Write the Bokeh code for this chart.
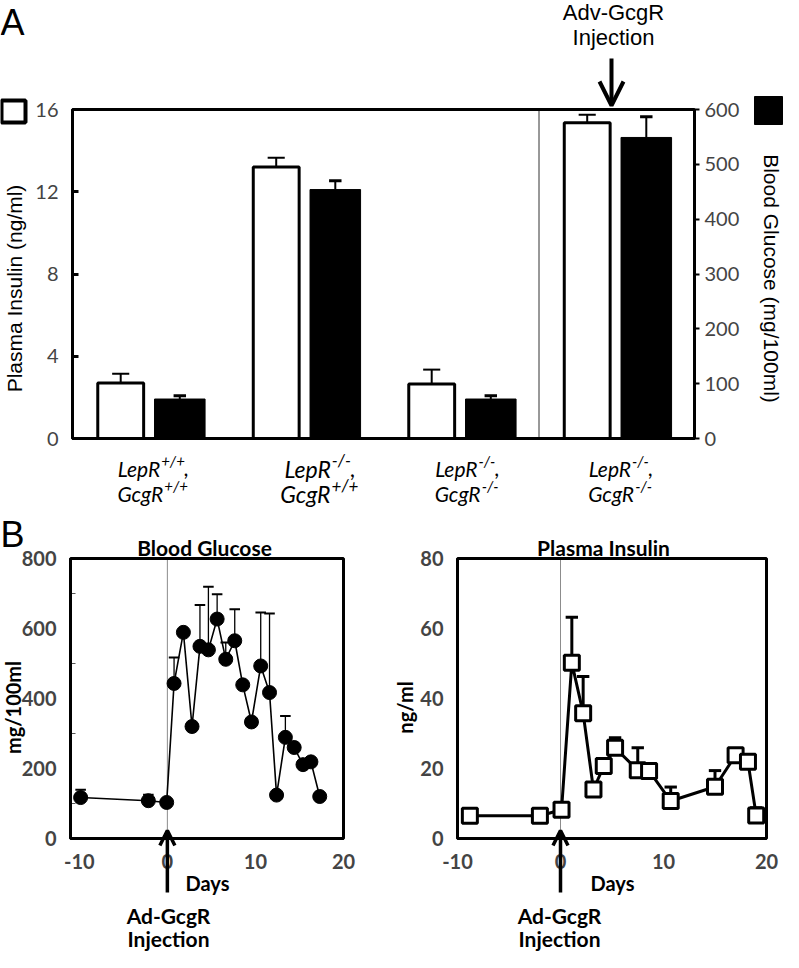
import math
from bokeh.plotting import figure
from bokeh.models import (Range1d, LinearAxis, FixedTicker, Label, Arrow, OpenHead,
                          BoxAnnotation, ColumnDataSource, CustomJSTickFormatter)
from bokeh.layouts import column, row
from bokeh.embed import file_html
from bokeh.resources import INLINE

# ---------------- data ----------------
lepr_geno = ["+/+", "-/-", "-/-", "-/-"]
gcgr_geno = ["+/+", "+/+", "-/-", "-/-"]
insulin_a = [2.7, 13.2, 2.65, 15.35]
insulin_a_err = [0.45, 0.45, 0.7, 0.4]
glucose_a = [72, 454, 72, 549]
glucose_a_err = [6, 16, 6, 38]
insulin_ticks = [0, 4, 8, 12, 16]
glucose_ticks = [0, 100, 200, 300, 400, 500, 600]

glu_days = [-9.85, -2.16, -0.08, 0.76, 1.82, 2.8, 3.7, 4.66, 5.65, 6.63, 7.65,
            8.56, 9.55, 10.6, 11.6, 12.4, 13.4, 14.4, 15.4, 16.3, 17.3]
glu_vals = [117, 108, 103, 443, 589, 320, 549, 539, 627, 512, 565,
            439, 333, 493, 417, 124, 289, 260, 211, 219, 120]
glu_err = [22, 17, 0, 74, 0, 0, 118, 180, 71, 48, 90,
           0, 0, 153, 226, 0, 61, 0, 0, 0, 0]

ins_days = [-8.8, -2.0, 0.1, 1.1, 2.2, 3.2, 4.2, 5.3, 7.5, 8.6, 10.7, 15.0, 17.0, 18.2, 19.0]
ins_vals = [6.5, 6.5, 8.2, 50.2, 35.8, 14.0, 20.7, 25.9, 19.5, 19.3, 10.7, 14.8, 23.8, 21.9, 6.6]
ins_err = [0, 0, 1.5, 13.0, 10.5, 0, 0, 2.9, 6.4, 0, 4.0, 4.6, 0, 1.7, 2.2]

day_ticks_glu = [-10, 0, 10, 20]
day_ticks_ins = [-10, 0, 10, 20]
glu_b_ticks = [0, 200, 400, 600, 800]
glu_b_minor = [100, 300, 500, 700]
ins_b_ticks = [0, 20, 40, 60, 80]
glu_day_lim = (-11, 20)
ins_day_lim = (-10, 20)
injection_day = 0

SANS = "Liberation Sans"
CAL = "Lato"
HYPHEN_FMT = CustomJSTickFormatter(code="return tick < 0 ? '-' + Math.abs(tick) : String(tick)")


def make_fig(cl, ct, W, H, dl, dr, dt, db, xlim, ylim):
    """Figure whose frame fills the canvas; data box (xlim, ylim) sits at page rect dl..dr, dt..db."""
    x0, x1 = xlim
    y0, y1 = ylim
    sx = (dr - dl) / (x1 - x0)
    sy = (db - dt) / (y1 - y0)
    xr = (x0 - (dl - cl) / sx, x1 + (cl + W - dr) / sx)
    yr = (y0 - (ct + H - db) / sy, y1 + (dt - ct) / sy)
    p = figure(width=W, height=H, x_range=Range1d(*xr), y_range=Range1d(*yr),
               output_backend="svg", toolbar_location=None, title=None,
               min_border=0, min_border_left=0, min_border_right=0,
               min_border_top=0, min_border_bottom=0)
    p.xgrid.grid_line_color = None
    p.ygrid.grid_line_color = None
    p.outline_line_color = None
    p.background_fill_color = "white"
    p.border_fill_color = "white"
    fx = lambda px: x0 + (px - dl) / sx
    fy = lambda py: y0 + (db - py) / sy
    gx = lambda d: dl + (d - x0) * sx
    return p, fx, fy, gx, yr


def lab(p, x, y, text, size, font=SANS, style="normal", align="center", angle=0.0):
    p.add_layout(Label(x=x, y=y, text=text, text_font=font, text_font_size=f"{size}px",
                       text_font_style=style, text_align=align, text_baseline="middle",
                       angle=angle, text_color="black"))


def style_axis(ax, font, size, bold=False):
    ax.major_label_text_font = font
    ax.major_label_text_font_size = f"{size}px"
    ax.major_label_text_font_style = "bold" if bold else "normal"
    ax.minor_tick_line_color = None
    ax.axis_line_width = 3
    ax.axis_line_color = "black"


# ---------------- Panel A ----------------
A_L, A_R, A_T, A_B = 80, 702, 117, 446
nA = len(insulin_a)
ins_lim = (insulin_ticks[0], insulin_ticks[-1])
glu_lim = (glucose_ticks[0], glucose_ticks[-1])
pA, fxA, fyA, gxA, yrA = make_fig(8, 8, 783, 512, A_L, A_R, A_T, A_B, (0, nA), ins_lim)
k = glu_lim[1] / ins_lim[1]
pA.extra_y_ranges = {"glu": Range1d(yrA[0] * k, yrA[1] * k)}

ya = pA.yaxis[0]
ya.fixed_location = 0
ya.bounds = ins_lim
ya.ticker = FixedTicker(ticks=insulin_ticks)
style_axis(ya, CAL, 20)
ya.major_tick_in = 6
ya.major_tick_out = 0
ya.major_tick_line_width = 3
ya.major_label_standoff = 14

ra = LinearAxis(y_range_name="glu", ticker=FixedTicker(ticks=glucose_ticks))
ra.fixed_location = nA
ra.bounds = glu_lim
style_axis(ra, CAL, 20)
ra.major_tick_in = 0
ra.major_tick_out = 5
ra.major_tick_line_width = 2
ra.major_label_standoff = 5
pA.add_layout(ra, "right")

xa = pA.xaxis[0]
xa.fixed_location = 0
xa.bounds = (0, nA)
xa.ticker = FixedTicker(ticks=[])
style_axis(xa, CAL, 1)
xa.major_tick_line_color = None
xa.major_label_text_font_size = "0px"

pA.add_layout(BoxAnnotation(left=0, right=nA, bottom=ins_lim[0], top=ins_lim[1],
                            fill_color=None, fill_alpha=0, line_color="black",
                            line_width=3, line_alpha=1.0))

grp = [i + 0.5 for i in range(nA)]
xw = [g - 0.19 for g in grp]
xb = [g + 0.19 for g in grp]

# separator before the treated group
pA.segment(x0=[nA - 1], y0=[ins_lim[0]], x1=[nA - 1], y1=[ins_lim[1]],
           line_color="#333333", line_width=1)

ins_top = [v + e for v, e in zip(insulin_a, insulin_a_err)]
glu_top = [v + e for v, e in zip(glucose_a, glucose_a_err)]
pA.segment(x0=xw, y0=insulin_a, x1=xw, y1=ins_top, line_color="black", line_width=2)
pA.segment(x0=[x - 0.055 for x in xw], y0=ins_top, x1=[x + 0.055 for x in xw], y1=ins_top,
           line_color="black", line_width=2)
pA.segment(x0=xb, y0=glucose_a, x1=xb, y1=glu_top, line_color="black", line_width=2,
           y_range_name="glu")
pA.segment(x0=[x - 0.04 for x in xb], y0=glu_top, x1=[x + 0.04 for x in xb], y1=glu_top,
           line_color="black", line_width=3, y_range_name="glu")

pA.vbar(x=xw, top=insulin_a, bottom=0, width=0.295, fill_color="white",
        line_color="black", line_width=3)
pA.vbar(x=xb, top=glucose_a, bottom=0, width=0.325, fill_color="black",
        line_color="black", line_width=1, y_range_name="glu")

# panel letter, injection note, legend squares, axis titles
lab(pA, fxA(8), fyA(30), "A", 36, align="left")
lab(pA, fxA(621), fyA(20), "Adv-GcgR", 22)
lab(pA, fxA(621), fyA(45), "Injection", 22)
pA.add_layout(Arrow(end=OpenHead(size=24, line_width=4, line_color="black"),
                    x_start=fxA(619), y_start=fyA(66), x_end=fxA(619), y_end=fyA(113),
                    line_width=4, line_color="black"))
pA.add_layout(BoxAnnotation(left=fxA(9), right=fxA(33), top=fyA(108), bottom=fyA(130),
                            fill_color="white", fill_alpha=1.0, line_color="black",
                            line_width=4, line_alpha=1.0))
pA.add_layout(BoxAnnotation(left=fxA(762), right=fxA(790), top=fyA(104), bottom=fyA(132),
                            fill_color="black", fill_alpha=1.0, line_color="black",
                            line_width=1, line_alpha=1.0))
lab(pA, fxA(22), fyA(296), "Plasma Insulin (ng/ml)", 21, angle=math.pi / 2)
lab(pA, fxA(779), fyA(286), "Blood Glucose (mg/100ml)", 21, angle=-math.pi / 2)

# category labels with superscripts
W = {'L': 0.49, 'e': 0.53, 'p': 0.56, 'R': 0.60, 'G': 0.69, 'c': 0.46, 'g': 0.50,
     '+': 0.58, '-': 0.36, '/': 0.38, ',': 0.23}


def tw(s, size):
    return sum(W.get(ch, 0.55) for ch in s) * size


def sup_line(cx, yc, base, sup, tail, size):
    ss = round(size * 0.72)
    total = tw(base, size) + tw(sup, ss) + tw(tail, size)
    x0 = cx - total / 2 + tw(base, size)
    lab(pA, fxA(x0), fyA(yc), base, size, font=CAL, style="italic", align="right")
    lab(pA, fxA(x0 + 1), fyA(yc - 0.36 * size), sup, ss, font=CAL, style="italic",
        align="left")
    if tail:
        lab(pA, fxA(x0 + 1 + tw(sup, ss)), fyA(yc), tail, size, font=CAL,
            style="italic", align="left")


cat_sizes = [21, 23, 21, 21]
cat_nudge = [1, 12, 4, 2]
for i, g in enumerate(grp):
    cx = gxA(g) + cat_nudge[i]
    sup_line(cx, 476, "LepR", lepr_geno[i], ",", cat_sizes[i])
    sup_line(cx, 501, "GcgR", gcgr_geno[i], "", cat_sizes[i])


# ---------------- Panel B ----------------
B_T, B_B = 566, 846


def panel_b(cl, W, dl, dr, xlim, ylim, xticks, yticks, minor):
    p, fx, fy, gx, yr = make_fig(cl, 520, W, 440, dl, dr, B_T, B_B, xlim, ylim)
    xa = p.xaxis[0]
    xa.fixed_location = ylim[0]
    xa.bounds = xlim
    xa.ticker = FixedTicker(ticks=xticks)
    xa.formatter = HYPHEN_FMT
    style_axis(xa, CAL, 20, bold=True)
    xa.major_tick_line_color = None
    xa.major_label_standoff = 9
    ya = p.yaxis[0]
    ya.fixed_location = xlim[0]
    ya.bounds = ylim
    ya.ticker = FixedTicker(ticks=yticks, minor_ticks=minor)
    style_axis(ya, CAL, 20, bold=True)
    ya.major_tick_line_color = None
    ya.minor_tick_in = 5
    ya.minor_tick_out = 0
    ya.minor_tick_line_color = "#555555"
    ya.minor_tick_line_width = 1
    ya.major_label_standoff = 8
    p.add_layout(BoxAnnotation(left=xlim[0], right=xlim[1], bottom=ylim[0], top=ylim[1],
                               fill_color=None, fill_alpha=0, line_color="black",
                               line_width=3, line_alpha=1.0))
    p.segment(x0=[injection_day], y0=[ylim[0]], x1=[injection_day], y1=[ylim[1]],
              line_color="#8c8c8c", line_width=1)
    return p, fx, fy


def errbars(p, xs, ys, es, half, lw, cap_lw):
    sel = [(x, y, e) for x, y, e in zip(xs, ys, es) if e > 0]
    src = ColumnDataSource(dict(x=[s[0] for s in sel], y=[s[1] for s in sel],
                                top=[s[1] + s[2] for s in sel],
                                xl=[s[0] - half for s in sel], xr=[s[0] + half for s in sel]))
    p.segment(x0="x", y0="y", x1="x", y1="top", source=src, line_color="black", line_width=lw)
    p.segment(x0="xl", y0="top", x1="xr", y1="top", source=src, line_color="black",
              line_width=cap_lw)


def b_notes(p, fx, fy, title, title_x, ylabel, ylabel_x, days_x, inj_x):
    lab(p, fx(title_x), fy(555), title, 21, font=CAL, style="bold")
    lab(p, fx(ylabel_x), fy(715), ylabel, 20, font=CAL, style="bold", angle=math.pi / 2)
    lab(p, fx(days_x), fy(890), "Days", 20, font=CAL, style="bold")
    lab(p, fx(inj_x), fy(923), "Ad-GcgR", 21, font=CAL, style="bold")
    lab(p, fx(inj_x), fy(946), "Injection", 21, font=CAL, style="bold")
    p.add_layout(Arrow(end=OpenHead(size=15, line_width=3.5, line_color="black"),
                       x_start=injection_day, y_start=fy(900), x_end=injection_day,
                       y_end=fy(838), line_width=3.5, line_color="black"))


pB1, fx1, fy1 = panel_b(8, 392, 78, 351, glu_day_lim, (glu_b_ticks[0], glu_b_ticks[-1]),
                        day_ticks_glu, glu_b_ticks, glu_b_minor)
errbars(pB1, glu_days, glu_vals, glu_err, 0.6, 1.3, 2)
pB1.line(glu_days, glu_vals, line_color="black", line_width=1.6)
pB1.scatter(glu_days, glu_vals, marker="circle", size=14, fill_color="black", line_color="black")
lab(pB1, fx1(8), fy1(542), "B", 36, align="left")
b_notes(pB1, fx1, fy1, "Blood Glucose", 212, "mg/100ml", 20, 215, 176)

pB2, fx2, fy2 = panel_b(400, 391, 465, 774, ins_day_lim, (ins_b_ticks[0], ins_b_ticks[-1]),
                        day_ticks_ins, ins_b_ticks, [])
errbars(pB2, ins_days, ins_vals, ins_err, 0.6, 3, 3)
pB2.line(ins_days, ins_vals, line_color="black", line_width=3)
pB2.scatter(ins_days, ins_vals, marker="square", size=15, fill_color="white",
            line_color="black", line_width=3)
b_notes(pB2, fx2, fy2, "Plasma Insulin", 611, "ng/ml", 412, 620, 567)

layout = column(pA, row(pB1, pB2, spacing=0), spacing=0)
open("out.html", "w").write(file_html(layout, INLINE))
